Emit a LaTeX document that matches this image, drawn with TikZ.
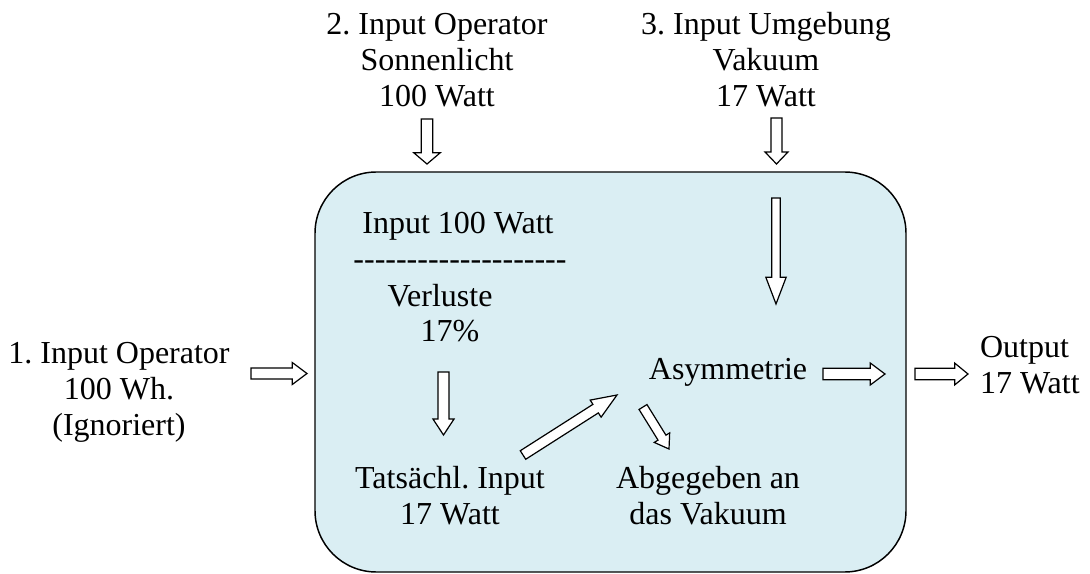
\documentclass[tikz,border=0pt]{standalone}
\usepackage{fontspec}
\setmainfont{Liberation Serif}
\usetikzlibrary{calc}
\definecolor{boxfill}{HTML}{DAEEF3}
% hollow block arrow from #1 (tail) to #2 (tip);
% #3 shaft half width, #4 head half width, #5 head length (all in pt)
\newcommand\blockarrow[5]{%
  \coordinate (ba-h) at ($(#2)!#5!(#1)$);
  \draw[blockarrow]
    ($(#1)!#3!90:(#2)$) -- ($(ba-h)!#3!-90:(#1)$) -- ($(ba-h)!#4!-90:(#1)$)
    -- (#2)
    -- ($(ba-h)!#4!90:(#1)$) -- ($(ba-h)!#3!90:(#1)$) -- ($(#1)!#3!-90:(#2)$) -- cycle;
}
\newcommand\hy{\hbox{-}}
\frenchspacing
\begin{document}
\begin{tikzpicture}[x=0.75pt,y=-0.75pt,
  every node/.style={inner sep=0pt,outer sep=0pt,font=\fontsize{24}{27}\selectfont},
  txt/.style={anchor=base,align=center},
  blockarrow/.style={draw=black,fill=white,line width=0.9pt,line join=miter},
  system/.style={draw=black,fill=boxfill,line width=1.1pt,rounded corners=46pt}]
\useasboundingbox (0,0) rectangle (1090,574);

% system boundary
\draw[system] (315,172) rectangle (906,572);

% texts outside the system (anchored at the baseline of their last line)
\node[txt] (in1) at (119,435) {1. Input Operator\\100 Wh.\\(Ignoriert)};
\node[txt] (in2) at (437,107) {2. Input Operator\\Sonnenlicht\\100 Watt};
\node[txt] (in3) at (766,107) {3. Input Umgebung\\Vakuum\\17 Watt};
\node[txt,align=left,anchor=base west] (out) at (980,393) {Output\\17 Watt};

% texts inside the system
\node[txt] (inp) at (458,234) {Input 100 Watt};
\node[txt] (dash) at (460,270) {\hy\hy\hy\hy\hy\hy\hy\hy\hy\hy\hy\hy\hy\hy\hy\hy\hy\hy\hy\hy};
\node[txt] (verl) at (440,306) {Verluste};
\node[txt] (proz) at (450,342) {17\%};
\node[txt] (tats) at (450,524) {Tats\"achl. Input\\17 Watt};
\node[txt] (asym) at (728,379) {Asymmetrie};
\node[txt] (abg) at (708,524) {Abgegeben an\\das Vakuum};

% arrow end points
\coordinate (a1t) at (251,373.5);  \coordinate (a1h) at (307,373.5);
\coordinate (a2t) at (427,119);    \coordinate (a2h) at (427,164);
\coordinate (a3t) at (776.5,118);  \coordinate (a3h) at (776.5,164);
\coordinate (a4t) at (776,198);    \coordinate (a4h) at (776,304);
\coordinate (a5t) at (443.5,372);  \coordinate (a5h) at (443.5,435);
\coordinate (a6t) at (523,455);    \coordinate (a6h) at (617,395);
\coordinate (a7t) at (643,407);    \coordinate (a7h) at (669,449);
\coordinate (a8t) at (823,374);    \coordinate (a8h) at (885,374);
\coordinate (a9t) at (915,374);    \coordinate (a9h) at (968,374);

\blockarrow{a1t}{a1h}{4.1pt}{8.2pt}{11pt}
\blockarrow{a2t}{a2h}{4.3pt}{10pt}{8.5pt}
\blockarrow{a3t}{a3h}{4.1pt}{8.6pt}{9pt}
\blockarrow{a4t}{a4h}{3.2pt}{7.6pt}{20pt}
\blockarrow{a5t}{a5h}{4.1pt}{7.9pt}{12pt}
\blockarrow{a6t}{a6h}{3.8pt}{7.6pt}{19pt}
\blockarrow{a7t}{a7h}{3.5pt}{6.8pt}{10pt}
\blockarrow{a8t}{a8h}{4.3pt}{8.2pt}{11pt}
\blockarrow{a9t}{a9h}{4.3pt}{8.2pt}{10pt}
\end{tikzpicture}
\end{document}
